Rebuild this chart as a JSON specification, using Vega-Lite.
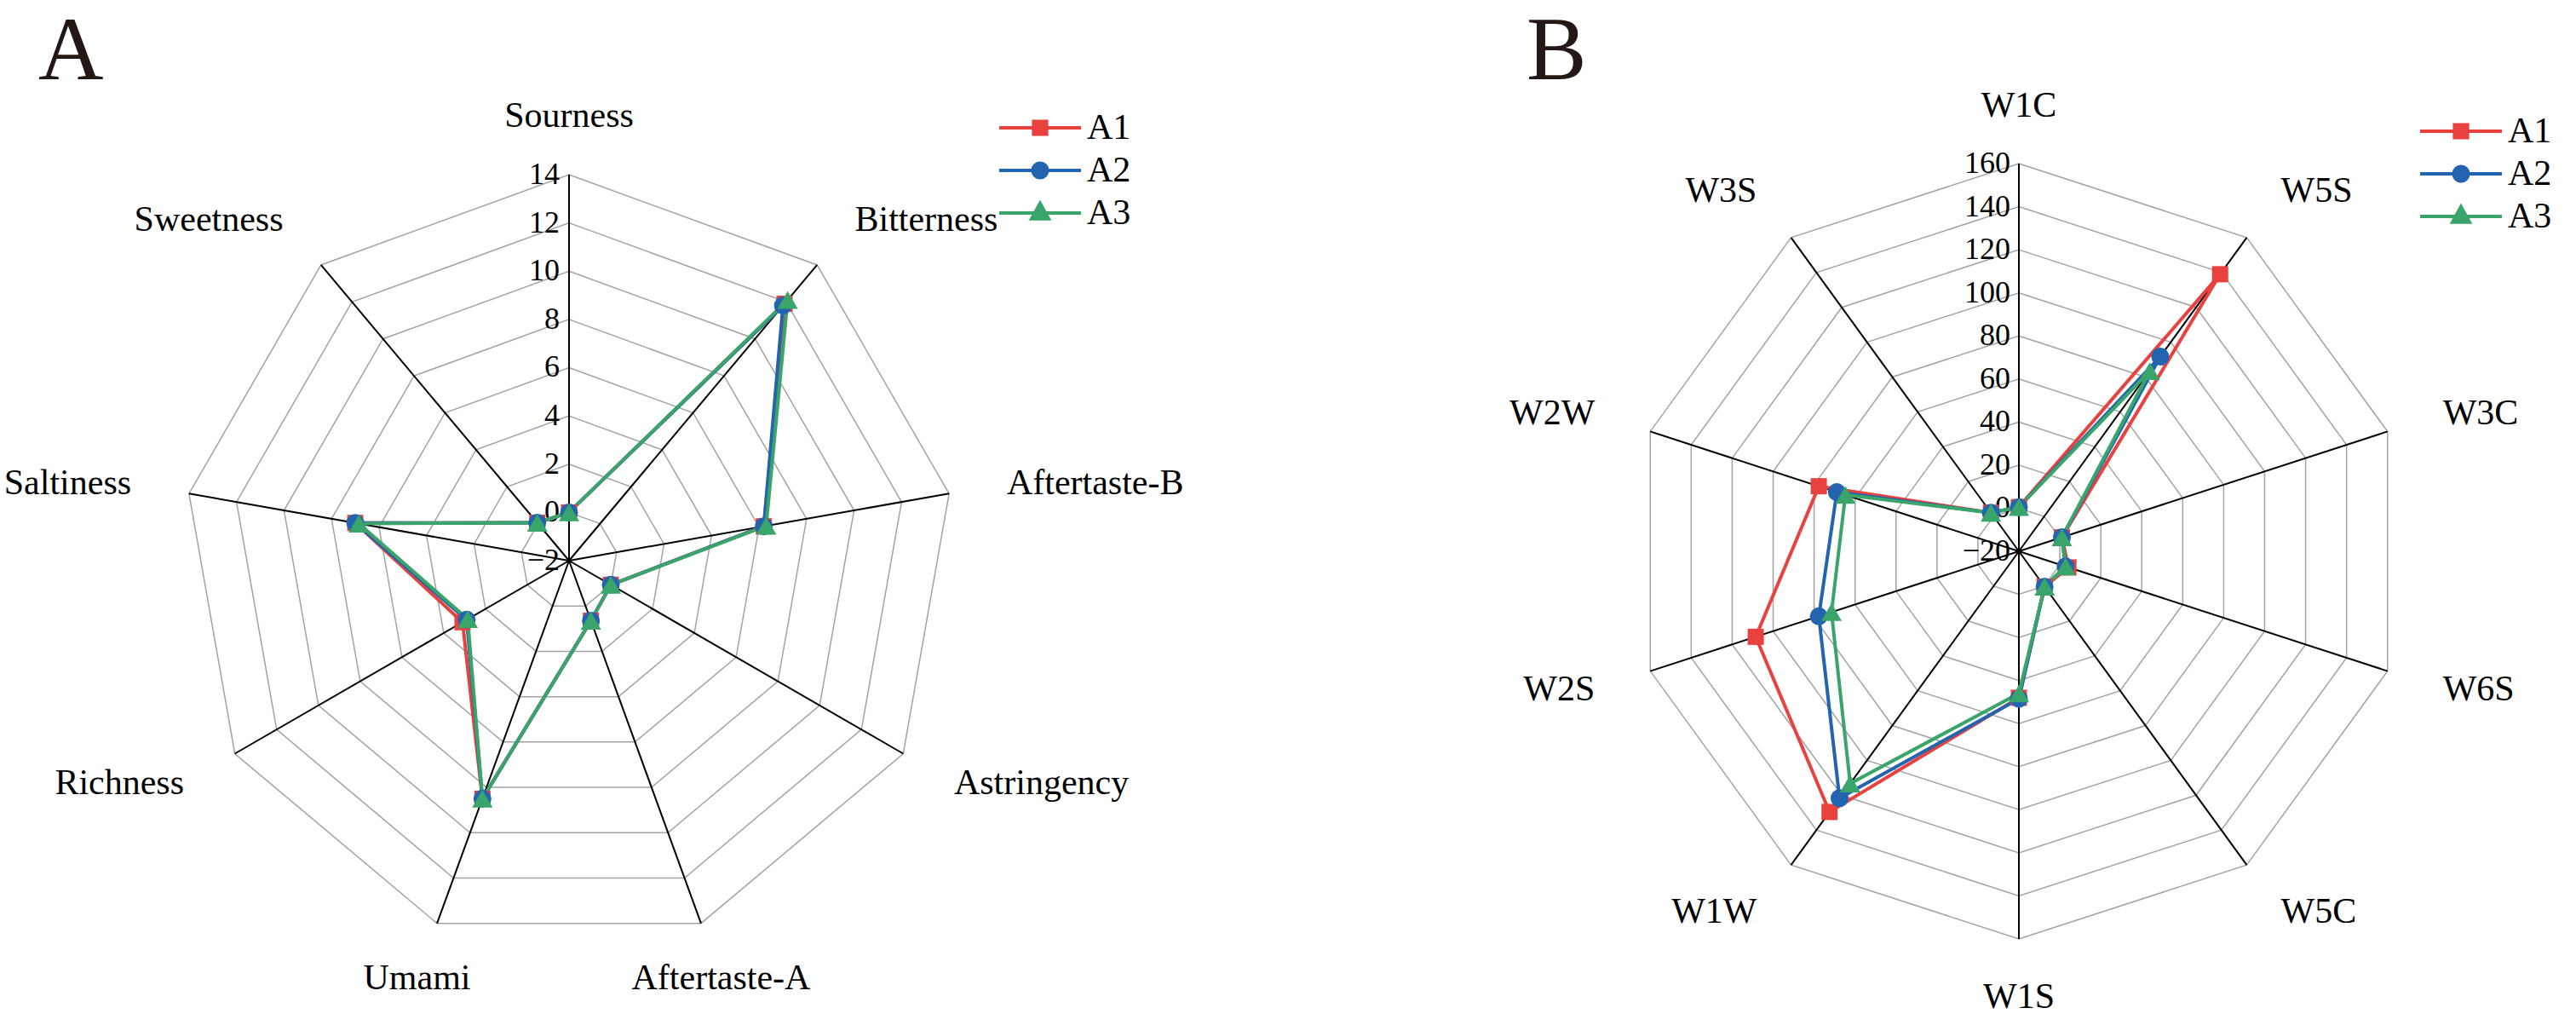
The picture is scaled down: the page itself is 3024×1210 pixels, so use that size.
{
  "$schema": "https://vega.github.io/schema/vega-lite/v6.json",
  "padding": {"top": 8, "left": 0, "right": 0, "bottom": 0},
  "spacing": 0,
  "background": "white",
  "config": {
    "view": {"stroke": null},
    "font": "Liberation Serif",
    "legend": {"labelFont": "Liberation Serif", "labelFontSize": 42, "labelColor": "black", "symbolSize": 361, "symbolStrokeWidth": 4, "labelOffset": 34, "rowPadding": 8, "padding": 0, "symbolOpacity": 1, "titleFont": "Liberation Serif"}
  },
  "datasets": {
    "axA": [
      {"attr": "Sourness", "k": 0}, {"attr": "Bitterness", "k": 1}, {"attr": "Aftertaste-B", "k": 2},
      {"attr": "Astringency", "k": 3}, {"attr": "Aftertaste-A", "k": 4}, {"attr": "Umami", "k": 5},
      {"attr": "Richness", "k": 6}, {"attr": "Saltiness", "k": 7}, {"attr": "Sweetness", "k": 8}
    ],
    "tkA": [
      {"tick": -2, "k": [0,1,2,3,4,5,6,7,8]}, {"tick": 0, "k": [0,1,2,3,4,5,6,7,8]},
      {"tick": 2, "k": [0,1,2,3,4,5,6,7,8]}, {"tick": 4, "k": [0,1,2,3,4,5,6,7,8]},
      {"tick": 6, "k": [0,1,2,3,4,5,6,7,8]}, {"tick": 8, "k": [0,1,2,3,4,5,6,7,8]},
      {"tick": 10, "k": [0,1,2,3,4,5,6,7,8]}, {"tick": 12, "k": [0,1,2,3,4,5,6,7,8]},
      {"tick": 14, "k": [0,1,2,3,4,5,6,7,8]}
    ],
    "tA": [
      {"attr": "Sourness", "series": "A1", "value": 0.0}, {"attr": "Bitterness", "series": "A1", "value": 11.9},
      {"attr": "Aftertaste-B", "series": "A1", "value": 6.2}, {"attr": "Astringency", "series": "A1", "value": 0.0},
      {"attr": "Aftertaste-A", "series": "A1", "value": 0.65}, {"attr": "Umami", "series": "A1", "value": 8.5},
      {"attr": "Richness", "series": "A1", "value": 3.1}, {"attr": "Saltiness", "series": "A1", "value": 7.0},
      {"attr": "Sweetness", "series": "A1", "value": 0.05},
      {"attr": "Sourness", "series": "A2", "value": 0.0}, {"attr": "Bitterness", "series": "A2", "value": 11.8},
      {"attr": "Aftertaste-B", "series": "A2", "value": 6.2}, {"attr": "Astringency", "series": "A2", "value": 0.0},
      {"attr": "Aftertaste-A", "series": "A2", "value": 0.65}, {"attr": "Umami", "series": "A2", "value": 8.5},
      {"attr": "Richness", "series": "A2", "value": 2.9}, {"attr": "Saltiness", "series": "A2", "value": 7.0},
      {"attr": "Sweetness", "series": "A2", "value": 0.05},
      {"attr": "Sourness", "series": "A3", "value": 0.0}, {"attr": "Bitterness", "series": "A3", "value": 12.1},
      {"attr": "Aftertaste-B", "series": "A3", "value": 6.3}, {"attr": "Astringency", "series": "A3", "value": 0.0},
      {"attr": "Aftertaste-A", "series": "A3", "value": 0.65}, {"attr": "Umami", "series": "A3", "value": 8.5},
      {"attr": "Richness", "series": "A3", "value": 2.85}, {"attr": "Saltiness", "series": "A3", "value": 6.85},
      {"attr": "Sweetness", "series": "A3", "value": 0.05}
    ],
    "axB": [
      {"attr": "W1C", "k": 0}, {"attr": "W5S", "k": 1}, {"attr": "W3C", "k": 2}, {"attr": "W6S", "k": 3},
      {"attr": "W5C", "k": 4}, {"attr": "W1S", "k": 5}, {"attr": "W1W", "k": 6}, {"attr": "W2S", "k": 7},
      {"attr": "W2W", "k": 8}, {"attr": "W3S", "k": 9}
    ],
    "tkB": [
      {"tick": -20, "k": [0,1,2,3,4,5,6,7,8,9]}, {"tick": 0, "k": [0,1,2,3,4,5,6,7,8,9]},
      {"tick": 20, "k": [0,1,2,3,4,5,6,7,8,9]}, {"tick": 40, "k": [0,1,2,3,4,5,6,7,8,9]},
      {"tick": 60, "k": [0,1,2,3,4,5,6,7,8,9]}, {"tick": 80, "k": [0,1,2,3,4,5,6,7,8,9]},
      {"tick": 100, "k": [0,1,2,3,4,5,6,7,8,9]}, {"tick": 120, "k": [0,1,2,3,4,5,6,7,8,9]},
      {"tick": 140, "k": [0,1,2,3,4,5,6,7,8,9]}, {"tick": 160, "k": [0,1,2,3,4,5,6,7,8,9]}
    ],
    "tB": [
      {"attr": "W1C", "series": "A1", "value": 0.5}, {"attr": "W5S", "series": "A1", "value": 139.0},
      {"attr": "W3C", "series": "A1", "value": 1.0}, {"attr": "W6S", "series": "A1", "value": 4.2},
      {"attr": "W5C", "series": "A1", "value": 0.3}, {"attr": "W1S", "series": "A1", "value": 48.0},
      {"attr": "W1W", "series": "A1", "value": 129.6}, {"attr": "W2S", "series": "A1", "value": 108.5},
      {"attr": "W2W", "series": "A1", "value": 77.7}, {"attr": "W3S", "series": "A1", "value": 2.1},
      {"attr": "W1C", "series": "A2", "value": 0.5}, {"attr": "W5S", "series": "A2", "value": 91.7},
      {"attr": "W3C", "series": "A2", "value": 1.0}, {"attr": "W6S", "series": "A2", "value": 2.8},
      {"attr": "W5C", "series": "A2", "value": 0.3}, {"attr": "W1S", "series": "A2", "value": 48.5},
      {"attr": "W1W", "series": "A2", "value": 121.7}, {"attr": "W2S", "series": "A2", "value": 77.7},
      {"attr": "W2W", "series": "A2", "value": 68.9}, {"attr": "W3S", "series": "A2", "value": 2.1},
      {"attr": "W1C", "series": "A3", "value": 0.5}, {"attr": "W5S", "series": "A3", "value": 83.4},
      {"attr": "W3C", "series": "A3", "value": 1.0}, {"attr": "W6S", "series": "A3", "value": 2.8},
      {"attr": "W5C", "series": "A3", "value": 0.3}, {"attr": "W1S", "series": "A3", "value": 46.0},
      {"attr": "W1W", "series": "A3", "value": 113.3}, {"attr": "W2S", "series": "A3", "value": 71.5},
      {"attr": "W2W", "series": "A3", "value": 64.7}, {"attr": "W3S", "series": "A3", "value": 2.1}
    ]
  },
  "hconcat": [
    {
      "title": {"text": "A", "anchor": "start", "frame": "group", "dx": 45, "offset": -102, "fontSize": 106, "font": "Liberation Serif", "fontWeight": "normal", "color": "#231815", "baseline": "alphabetic"},
      "width": 1512,
      "height": 1110,
      "layer": [
        {
          "data": {"name": "tkA"},
          "transform": [
            {"filter": "datum.tick > -2"},
            {"flatten": ["k"]},
            {"calculate": "datum.k * 2 * PI / 9", "as": "theta"},
            {"calculate": "(datum.tick + 2) / 16", "as": "rn"},
            {"calculate": "datum.rn * sin(datum.theta)", "as": "px"},
            {"calculate": "datum.rn * cos(datum.theta)", "as": "py"}
          ],
          "mark": {"type": "line", "interpolate": "linear-closed", "stroke": "#a3a3a3", "strokeWidth": 1.5},
          "encoding": {
            "x": {"field": "px", "type": "quantitative", "scale": {"domain": [-1.47461, 1.86313], "nice": false, "zero": false}, "axis": null},
            "y": {"field": "py", "type": "quantitative", "scale": {"domain": [-1.21192, 1.23841], "nice": false, "zero": false}, "axis": null},
            "detail": {"field": "tick", "type": "nominal"},
            "order": {"field": "k", "type": "quantitative"}
          }
        },
        {
          "data": {"name": "axA"},
          "transform": [
            {"calculate": "datum.k * 2 * PI / 9", "as": "theta"},
            {"calculate": "sin(datum.theta)", "as": "px"},
            {"calculate": "cos(datum.theta)", "as": "py"}
          ],
          "mark": {"type": "rule", "stroke": "black", "strokeWidth": 2},
          "encoding": {
            "x": {"field": "px", "type": "quantitative", "scale": {"domain": [-1.47461, 1.86313], "nice": false, "zero": false}, "axis": null},
            "y": {"field": "py", "type": "quantitative", "scale": {"domain": [-1.21192, 1.23841], "nice": false, "zero": false}, "axis": null},
            "x2": {"datum": 0},
            "y2": {"datum": 0}
          }
        },
        {
          "data": {"name": "tkA"},
          "transform": [{"calculate": "(datum.tick + 2) / 16", "as": "rn"}],
          "mark": {"type": "text", "align": "right", "baseline": "middle", "dx": -11, "fontSize": 36, "font": "Liberation Serif", "color": "black"},
          "encoding": {
            "x": {"datum": 0, "type": "quantitative", "scale": {"domain": [-1.47461, 1.86313], "nice": false, "zero": false}, "axis": null},
            "y": {"field": "rn", "type": "quantitative", "scale": {"domain": [-1.21192, 1.23841], "nice": false, "zero": false}, "axis": null},
            "text": {"field": "tick", "type": "quantitative", "format": "d"}
          }
        },
        {
          "data": {"name": "axA"},
          "transform": [
            {"calculate": "datum.k * 2 * PI / 9", "as": "theta"},
            {"calculate": "sin(datum.theta)", "as": "sx"},
            {"calculate": "1.152 * sin(datum.theta)", "as": "px"},
            {"calculate": "1.152 * cos(datum.theta)", "as": "py"}
          ],
          "mark": {"type": "text", "baseline": "middle", "fontSize": 42, "font": "Liberation Serif", "color": "black",
                   "align": {"expr": "datum.sx > 0.4 ? 'left' : (datum.sx < -0.4 ? 'right' : 'center')"}},
          "encoding": {
            "x": {"field": "px", "type": "quantitative", "scale": {"domain": [-1.47461, 1.86313], "nice": false, "zero": false}, "axis": null},
            "y": {"field": "py", "type": "quantitative", "scale": {"domain": [-1.21192, 1.23841], "nice": false, "zero": false}, "axis": null},
            "text": {"field": "attr", "type": "nominal"}
          }
        },
        {
          "data": {"name": "tA"},
          "transform": [
            {"lookup": "attr", "from": {"data": {"name": "axA"}, "key": "attr", "fields": ["k"]}},
            {"calculate": "datum.k * 2 * PI / 9", "as": "theta"},
            {"calculate": "(datum.value + 2) / 16", "as": "rn"},
            {"calculate": "datum.rn * sin(datum.theta)", "as": "px"},
            {"calculate": "datum.rn * cos(datum.theta)", "as": "py"}
          ],
          "encoding": {
            "x": {"field": "px", "type": "quantitative", "scale": {"domain": [-1.47461, 1.86313], "nice": false, "zero": false}, "axis": null},
            "y": {"field": "py", "type": "quantitative", "scale": {"domain": [-1.21192, 1.23841], "nice": false, "zero": false}, "axis": null}
          },
          "layer": [
            {
              "transform": [{"filter": "datum.series == 'A1'"}],
              "mark": {"type": "line", "interpolate": "linear-closed", "strokeWidth": 4, "stroke": "#e8413e"},
              "encoding": {"order": {"field": "k", "type": "quantitative"}}
            },
            {
              "transform": [{"filter": "datum.series == 'A2'"}],
              "mark": {"type": "line", "interpolate": "linear-closed", "strokeWidth": 4, "stroke": "#2364b0"},
              "encoding": {"order": {"field": "k", "type": "quantitative"}}
            },
            {
              "transform": [{"filter": "datum.series == 'A3'"}],
              "mark": {"type": "line", "interpolate": "linear-closed", "strokeWidth": 4, "stroke": "#3aa56a"},
              "encoding": {"order": {"field": "k", "type": "quantitative"}}
            },
            {
              "transform": [{"filter": "datum.series == 'A1'"}],
              "mark": {"type": "point", "shape": "square", "size": 361, "filled": true, "opacity": 1, "color": "#e8413e", "strokeWidth": 0}
            },
            {
              "transform": [{"filter": "datum.series == 'A2'"}],
              "mark": {"type": "point", "shape": "circle", "size": 441, "filled": true, "opacity": 1, "color": "#2364b0", "strokeWidth": 0}
            },
            {
              "transform": [{"filter": "datum.series == 'A3'"}],
              "mark": {"type": "point", "shape": "triangle-up", "size": 576, "filled": true, "opacity": 1, "color": "#3aa56a", "strokeWidth": 0}
            },
            {
              "mark": {"type": "point", "filled": true, "opacity": 0, "strokeWidth": 4},
              "encoding": {
                "fill": {"field": "series", "type": "nominal", "scale": {"domain": ["A1", "A2", "A3"], "range": ["#e8413e", "#2364b0", "#3aa56a"]},
                         "legend": {"title": null, "orient": "none", "legendX": 1200, "legendY": 32, "labelFont": "Liberation Serif", "labelFontSize": 42, "labelOffset": 34,
                                    "encode": {"labels": {"update": {"font": {"value": "Liberation Serif"}, "fontSize": {"value": 42}, "fill": {"value": "black"}}}}}},
                "stroke": {"field": "series", "type": "nominal", "scale": {"domain": ["A1", "A2", "A3"], "range": ["#e8413e", "#2364b0", "#3aa56a"]},
                         "legend": {"title": null, "orient": "none", "legendX": 1200, "legendY": 32, "labelFont": "Liberation Serif", "labelFontSize": 42, "labelOffset": 34,
                                    "encode": {"labels": {"update": {"font": {"value": "Liberation Serif"}, "fontSize": {"value": 42}, "fill": {"value": "black"}}}}}},
                "shape": {"field": "series", "type": "nominal", "scale": {"domain": ["A1", "A2", "A3"], "range": ["M-5.05,0H5.05M-0.8,-0.8H0.8V0.8H-0.8Z", "M-5.05,0H5.05M-0.9,0A0.9,0.9,0,1,0,0.9,0A0.9,0.9,0,1,0,-0.9,0Z", "M-5.05,0H5.05M0,-1.2L1.05,0.7H-1.05Z"]},
                         "legend": {"title": null, "orient": "none", "legendX": 1200, "legendY": 32, "labelFont": "Liberation Serif", "labelFontSize": 42, "labelOffset": 34,
                                    "encode": {"labels": {"update": {"font": {"value": "Liberation Serif"}, "fontSize": {"value": 42}, "fill": {"value": "black"}}}}}}
              }
            }
          ]
        }
      ]
    },
    {
      "title": {"text": "B", "anchor": "start", "frame": "group", "dx": 280, "offset": -102, "fontSize": 106, "font": "Liberation Serif", "fontWeight": "normal", "color": "#231815", "baseline": "alphabetic"},
      "width": 1512,
      "height": 1110,
      "layer": [
        {
          "data": {"name": "tkB"},
          "transform": [
            {"filter": "datum.tick > -20"},
            {"flatten": ["k"]},
            {"calculate": "datum.k * 2 * PI / 10", "as": "theta"},
            {"calculate": "(datum.tick + 20) / 180", "as": "rn"},
            {"calculate": "datum.rn * sin(datum.theta)", "as": "px"},
            {"calculate": "datum.rn * cos(datum.theta)", "as": "py"}
          ],
          "mark": {"type": "line", "interpolate": "linear-closed", "stroke": "#a3a3a3", "strokeWidth": 1.5},
          "encoding": {
            "x": {"field": "px", "type": "quantitative", "scale": {"domain": [-1.88571, 1.43736], "nice": false, "zero": false}, "axis": null},
            "y": {"field": "py", "type": "quantitative", "scale": {"domain": [-1.23077, 1.20879], "nice": false, "zero": false}, "axis": null},
            "detail": {"field": "tick", "type": "nominal"},
            "order": {"field": "k", "type": "quantitative"}
          }
        },
        {
          "data": {"name": "axB"},
          "transform": [
            {"calculate": "datum.k * 2 * PI / 10", "as": "theta"},
            {"calculate": "sin(datum.theta)", "as": "px"},
            {"calculate": "cos(datum.theta)", "as": "py"}
          ],
          "mark": {"type": "rule", "stroke": "black", "strokeWidth": 2},
          "encoding": {
            "x": {"field": "px", "type": "quantitative", "scale": {"domain": [-1.88571, 1.43736], "nice": false, "zero": false}, "axis": null},
            "y": {"field": "py", "type": "quantitative", "scale": {"domain": [-1.23077, 1.20879], "nice": false, "zero": false}, "axis": null},
            "x2": {"datum": 0},
            "y2": {"datum": 0}
          }
        },
        {
          "data": {"name": "tkB"},
          "transform": [{"calculate": "(datum.tick + 20) / 180", "as": "rn"}],
          "mark": {"type": "text", "align": "right", "baseline": "middle", "dx": -10, "fontSize": 36, "font": "Liberation Serif", "color": "black"},
          "encoding": {
            "x": {"datum": 0, "type": "quantitative", "scale": {"domain": [-1.88571, 1.43736], "nice": false, "zero": false}, "axis": null},
            "y": {"field": "rn", "type": "quantitative", "scale": {"domain": [-1.23077, 1.20879], "nice": false, "zero": false}, "axis": null},
            "text": {"field": "tick", "type": "quantitative", "format": "d"}
          }
        },
        {
          "data": {"name": "axB"},
          "transform": [
            {"calculate": "datum.k * 2 * PI / 10", "as": "theta"},
            {"calculate": "sin(datum.theta)", "as": "sx"},
            {"calculate": "1.15 * sin(datum.theta)", "as": "px"},
            {"calculate": "1.15 * cos(datum.theta)", "as": "py"}
          ],
          "mark": {"type": "text", "baseline": "middle", "fontSize": 42, "font": "Liberation Serif", "color": "black",
                   "align": {"expr": "datum.sx > 0.4 ? 'left' : (datum.sx < -0.4 ? 'right' : 'center')"}},
          "encoding": {
            "x": {"field": "px", "type": "quantitative", "scale": {"domain": [-1.88571, 1.43736], "nice": false, "zero": false}, "axis": null},
            "y": {"field": "py", "type": "quantitative", "scale": {"domain": [-1.23077, 1.20879], "nice": false, "zero": false}, "axis": null},
            "text": {"field": "attr", "type": "nominal"}
          }
        },
        {
          "data": {"name": "tB"},
          "transform": [
            {"lookup": "attr", "from": {"data": {"name": "axB"}, "key": "attr", "fields": ["k"]}},
            {"calculate": "datum.k * 2 * PI / 10", "as": "theta"},
            {"calculate": "(datum.value + 20) / 180", "as": "rn"},
            {"calculate": "datum.rn * sin(datum.theta)", "as": "px"},
            {"calculate": "datum.rn * cos(datum.theta)", "as": "py"}
          ],
          "encoding": {
            "x": {"field": "px", "type": "quantitative", "scale": {"domain": [-1.88571, 1.43736], "nice": false, "zero": false}, "axis": null},
            "y": {"field": "py", "type": "quantitative", "scale": {"domain": [-1.23077, 1.20879], "nice": false, "zero": false}, "axis": null}
          },
          "layer": [
            {
              "transform": [{"filter": "datum.series == 'A1'"}],
              "mark": {"type": "line", "interpolate": "linear-closed", "strokeWidth": 4, "stroke": "#e8413e"},
              "encoding": {"order": {"field": "k", "type": "quantitative"}}
            },
            {
              "transform": [{"filter": "datum.series == 'A2'"}],
              "mark": {"type": "line", "interpolate": "linear-closed", "strokeWidth": 4, "stroke": "#2364b0"},
              "encoding": {"order": {"field": "k", "type": "quantitative"}}
            },
            {
              "transform": [{"filter": "datum.series == 'A3'"}],
              "mark": {"type": "line", "interpolate": "linear-closed", "strokeWidth": 4, "stroke": "#3aa56a"},
              "encoding": {"order": {"field": "k", "type": "quantitative"}}
            },
            {
              "transform": [{"filter": "datum.series == 'A1'"}],
              "mark": {"type": "point", "shape": "square", "size": 361, "filled": true, "opacity": 1, "color": "#e8413e", "strokeWidth": 0}
            },
            {
              "transform": [{"filter": "datum.series == 'A2'"}],
              "mark": {"type": "point", "shape": "circle", "size": 441, "filled": true, "opacity": 1, "color": "#2364b0", "strokeWidth": 0}
            },
            {
              "transform": [{"filter": "datum.series == 'A3'"}],
              "mark": {"type": "point", "shape": "triangle-up", "size": 576, "filled": true, "opacity": 1, "color": "#3aa56a", "strokeWidth": 0}
            },
            {
              "mark": {"type": "point", "filled": true, "opacity": 0, "strokeWidth": 4},
              "encoding": {
                "fill": {"field": "series", "type": "nominal", "scale": {"domain": ["A1", "A2", "A3"], "range": ["#e8413e", "#2364b0", "#3aa56a"]},
                         "legend": {"title": null, "orient": "none", "legendX": 1356, "legendY": 36, "labelFont": "Liberation Serif", "labelFontSize": 42, "labelOffset": 34,
                                    "encode": {"labels": {"update": {"font": {"value": "Liberation Serif"}, "fontSize": {"value": 42}, "fill": {"value": "black"}}}}}},
                "stroke": {"field": "series", "type": "nominal", "scale": {"domain": ["A1", "A2", "A3"], "range": ["#e8413e", "#2364b0", "#3aa56a"]},
                         "legend": {"title": null, "orient": "none", "legendX": 1356, "legendY": 36, "labelFont": "Liberation Serif", "labelFontSize": 42, "labelOffset": 34,
                                    "encode": {"labels": {"update": {"font": {"value": "Liberation Serif"}, "fontSize": {"value": 42}, "fill": {"value": "black"}}}}}},
                "shape": {"field": "series", "type": "nominal", "scale": {"domain": ["A1", "A2", "A3"], "range": ["M-5.05,0H5.05M-0.8,-0.8H0.8V0.8H-0.8Z", "M-5.05,0H5.05M-0.9,0A0.9,0.9,0,1,0,0.9,0A0.9,0.9,0,1,0,-0.9,0Z", "M-5.05,0H5.05M0,-1.2L1.05,0.7H-1.05Z"]},
                         "legend": {"title": null, "orient": "none", "legendX": 1356, "legendY": 36, "labelFont": "Liberation Serif", "labelFontSize": 42, "labelOffset": 34,
                                    "encode": {"labels": {"update": {"font": {"value": "Liberation Serif"}, "fontSize": {"value": 42}, "fill": {"value": "black"}}}}}}
              }
            }
          ]
        }
      ]
    }
  ],
  "resolve": {
    "scale": {"x": "independent", "y": "independent", "fill": "independent", "stroke": "independent", "shape": "independent"},
    "legend": {"fill": "independent", "stroke": "independent", "shape": "independent"}
  }
}
